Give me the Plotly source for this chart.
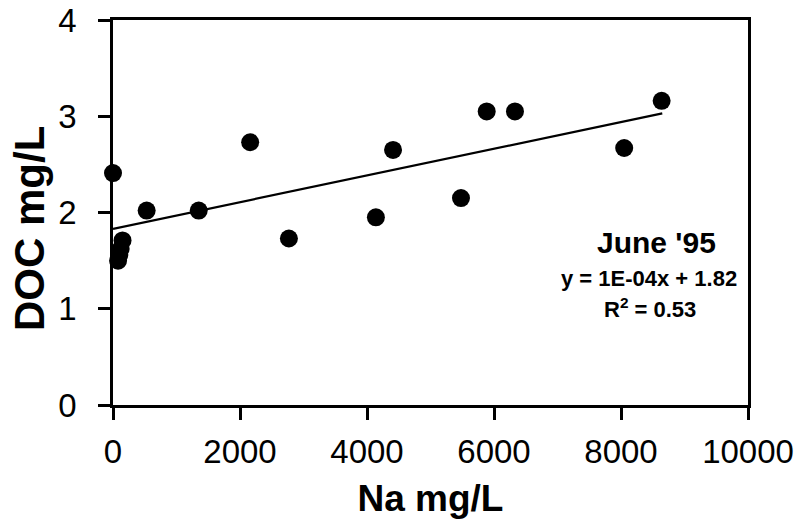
import plotly.graph_objects as go

# Data (Na mg/L vs DOC mg/L, June '95)
na_values = [0, 80, 100, 120, 150, 530, 1350, 2160, 2770, 4140, 4410, 5480, 5885, 6330, 8050, 8640]
doc_values = [2.41, 1.50, 1.56, 1.62, 1.71, 2.02, 2.02, 2.73, 1.73, 1.95, 2.65, 2.15, 3.05, 3.05, 2.67, 3.16]

# Linear trend line endpoints (as drawn)
trend_x = [0, 8650]
trend_y = [1.83, 3.03]

x_ticks = [0, 2000, 4000, 6000, 8000, 10000]
y_ticks = [0, 1, 2, 3, 4]

FONT = "Arial, Liberation Sans, sans-serif"
W, H = 801, 520
ml, mr, mt, mb = 113, 53, 20, 115
pw, ph = W - ml - mr, H - mt - mb


def px(x, y):
    return (x - ml) / pw, 1 - (y - mt) / ph


fig = go.Figure()
fig.add_trace(go.Scatter(
    x=trend_x, y=trend_y, mode="lines",
    line=dict(color="black", width=2.2),
    hoverinfo="skip", showlegend=False,
))
fig.add_trace(go.Scatter(
    x=na_values, y=doc_values, mode="markers",
    marker=dict(color="black", size=18, line=dict(width=0)),
    cliponaxis=False, showlegend=False,
))

annos = [
    ("<b>June '95</b>", 656, 242, 30, 0),
    ("<b>y = 1E-04x + 1.82</b>", 649, 278, 22, 0),
    ("<b>R<sup>2</sup> = 0.53</b>", 650, 308, 22, 0),
    ("<b>DOC mg/L</b>", 30, 228, 42, -90),
]
for text, x, y, size, ang in annos:
    ax, ay = px(x, y)
    fig.add_annotation(text=text, x=ax, y=ay, xref="paper", yref="paper",
                       xanchor="center", yanchor="middle", showarrow=False,
                       textangle=ang, font=dict(family=FONT, size=size, color="black"))

fig.update_layout(
    width=W, height=H,
    margin=dict(l=ml, r=mr, t=mt, b=mb, pad=0),
    paper_bgcolor="white", plot_bgcolor="white",
    font=dict(family=FONT, color="black"),
    xaxis=dict(
        range=[0, 10000], tickvals=x_ticks, ticktext=[str(v) for v in x_ticks],
        showgrid=False, zeroline=False, automargin=False,
        showline=True, linecolor="black", linewidth=2.5, mirror=True,
        ticks="outside", ticklen=12, tickwidth=2.5, tickcolor="black",
        tickfont=dict(size=33), ticklabelstandoff=4,
        title=dict(text="<b>Na mg/L</b>", font=dict(size=37), standoff=16),
    ),
    yaxis=dict(
        range=[0, 4], tickvals=y_ticks, ticktext=[str(v) for v in y_ticks],
        showgrid=False, zeroline=False, automargin=False,
        showline=True, linecolor="black", linewidth=2.5, mirror=True,
        ticks="outside", ticklen=12, tickwidth=2.5, tickcolor="black",
        tickfont=dict(size=33), ticklabelstandoff=15,
    ),
)

fig.write_html("out.html")
